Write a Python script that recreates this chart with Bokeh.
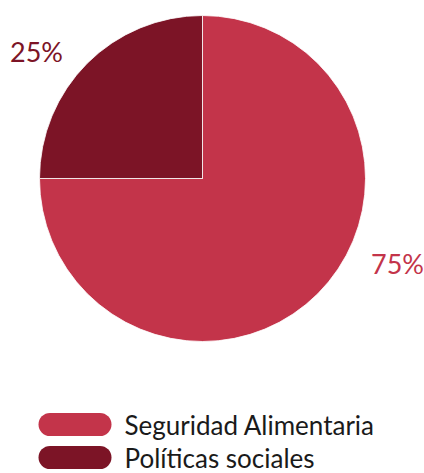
import numpy as np
from bokeh.plotting import figure
from bokeh.models import Range1d
from bokeh.core.properties import value
from bokeh.embed import file_html
from bokeh.resources import INLINE

categories = ["Seguridad Alimentaria", "Políticas sociales"]
values = [75, 25]
colors = ["#C3344A", "#7C1426"]
label_pos_x = [397, 36]
label_pos_y = [263, 51]

W, H = 424, 473
cx, cy, r = 202, H - 178, 163

p = figure(width=W, height=H, x_range=Range1d(0, W), y_range=Range1d(0, H),
           output_backend="svg", toolbar_location=None, min_border=0,
           background_fill_color="white", border_fill_color="white")
p.axis.visible = False
p.grid.visible = False
p.outline_line_color = None

frac = np.array(values, dtype=float) / sum(values)
ends = np.cumsum(frac)
starts = ends - frac
start_ang = np.pi / 2 - 2 * np.pi * starts
end_ang = np.pi / 2 - 2 * np.pi * ends

p.wedge(x=[cx] * len(values), y=[cy] * len(values), radius=r,
        start_angle=list(start_ang), end_angle=list(end_ang), direction="clock",
        fill_color=colors, line_color="white", line_width=0.8)

labels = [f"{v:.0f}%" for v in values]
p.text(x=label_pos_x, y=[H - y for y in label_pos_y], text=labels, text_color=colors,
       text_font=value("Lato"), text_font_size="27px", text_align="center",
       text_baseline="middle")

leg_y = [H - 424, H - 457]
p.segment(x0=[49.5] * 2, x1=[99.5] * 2, y0=leg_y, y1=leg_y, line_color=colors,
          line_width=23, line_cap="round")
p.text(x=[124] * 2, y=leg_y, text=categories, text_color="#1a1a1a",
       text_font=value("Lato"), text_font_size="26px", text_align="left",
       text_baseline="middle")

open("out.html", "w").write(file_html(p, INLINE))
